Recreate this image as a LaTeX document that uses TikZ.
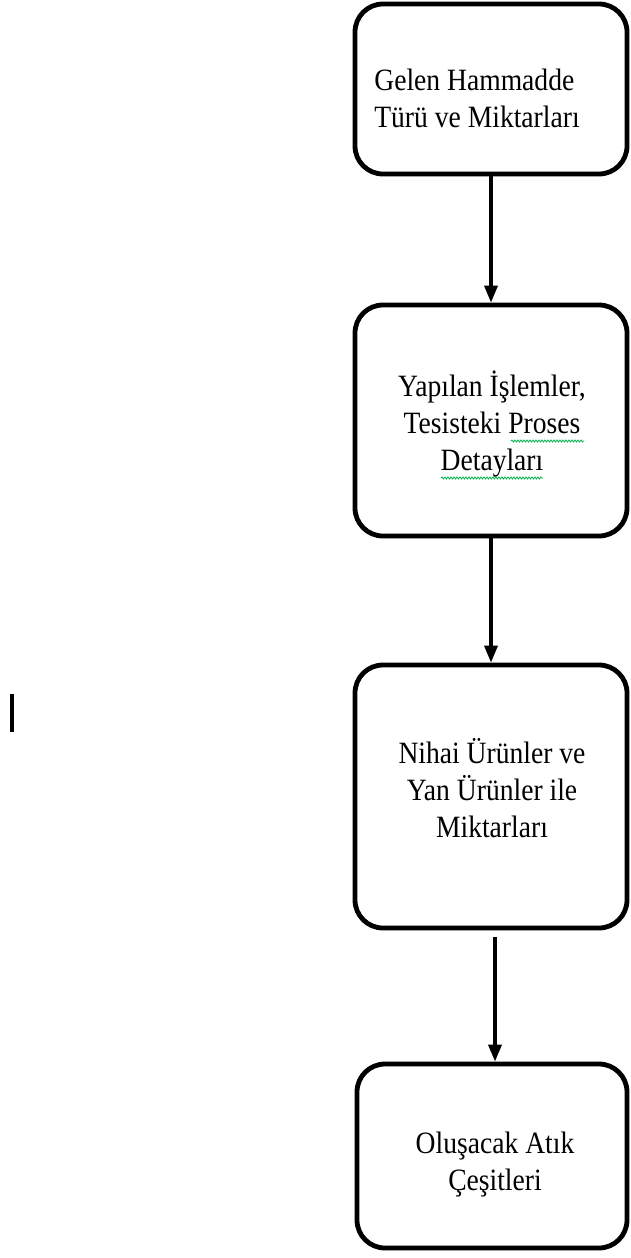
\documentclass[tikz,border=0pt]{standalone}
\usepackage{fontspec}
\setmainfont{Liberation Serif}[FakeStretch=0.89]
\usetikzlibrary{arrows.meta,decorations.pathmorphing}
\begin{document}
\begin{tikzpicture}[x=1pt,y=-1pt,
  box/.style={draw,line width=4.8pt,rounded corners=28pt,minimum width=272pt,inner sep=0pt},
  lbl/.style={font=\fontsize{31}{37}\selectfont,anchor=base,inner sep=0pt},
  flow/.style={line width=3.5pt,-{Triangle[length=17pt,width=13pt]}},
  spell/.style={draw=teal!60!green,line width=0.8pt,decorate,decoration={snake,amplitude=1pt,segment length=3pt}}]
\useasboundingbox[fill=white] (0,0) rectangle (630,1258);
% boxes
\node[box,minimum height=170pt] (b1) at (491,89) {};
\node[box,minimum height=231pt] (b2) at (491,420.5) {};
\node[box,minimum height=263pt] (b3) at (491,796.5) {};
\node[box,minimum width=270pt,minimum height=184pt] (b4) at (492,1156) {};
% texts (anchored at the baseline of the last line)
\node[lbl,align=left] (t1) at (477,127) {Gelen Hammadde\\Türü ve Miktarları};
\node[lbl,align=center] (t2) at (492,470) {Yapılan İşlemler,\\Tesisteki Proses\\Detayları};
\node[lbl,align=center] (t3) at (492,837) {Nihai Ürünler ve\\Yan Ürünler ile\\Miktarları};
\node[lbl,align=center] (t4) at (495,1190) {Oluşacak Atık\\Çeşitleri};
% spell-check underlines
\draw[spell] (511,441) -- (584,441);
\draw[spell] (441,478) -- (543,478);
% connectors
\draw[flow] (b1.south) -- (b2.north);
\draw[flow] (b2.south) -- (b3.north);
\draw[flow] ([shift={(4,7)}]b3.south) -- ([xshift=3pt]b4.north);
% stray bar
\draw[line width=3.5pt] (12,694) -- (12,732);
\end{tikzpicture}
\end{document}
